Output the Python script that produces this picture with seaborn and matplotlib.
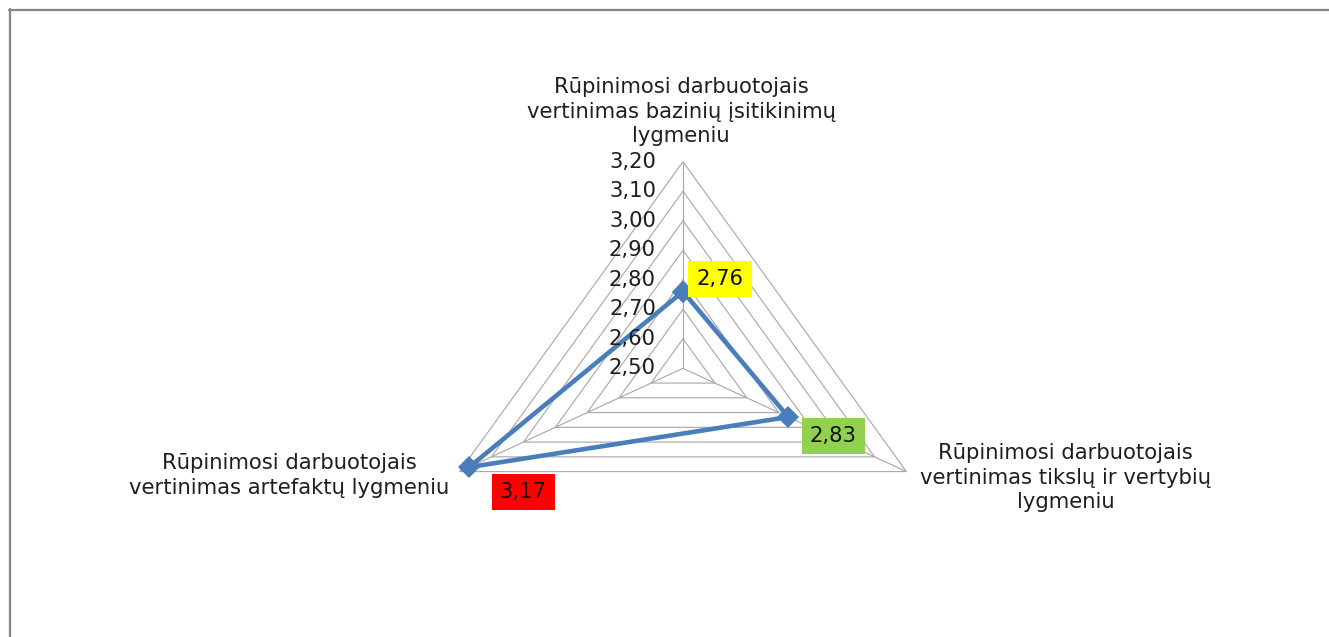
import numpy as np
import pandas as pd
import matplotlib
matplotlib.use("Agg")
import matplotlib.pyplot as plt
import seaborn as sns
from matplotlib.lines import Line2D

# Radar chart data
categories = [
    "Rūpinimosi darbuotojais\nvertinimas bazinių įsitikinimų\nlygmeniu",
    "Rūpinimosi darbuotojais\nvertinimas tikslų ir vertybių\nlygmeniu",
    "Rūpinimosi darbuotojais\nvertinimas artefaktų lygmeniu",
]
values = [2.76, 2.83, 3.17]
label_colors = ["#FFFF00", "#92D050", "#FF0000"]
tick_values = [2.50, 2.60, 2.70, 2.80, 2.90, 3.00, 3.10, 3.20]
tick_labels = ["2,50", "2,60", "2,70", "2,80", "2,90", "3,00", "3,10", "3,20"]
r_min, r_max = 2.50, 3.20

sns.set_theme(style="white")
plt.rcParams["font.family"] = ["DejaVu Sans"]

W, H = 1329, 637
fig = plt.figure(figsize=(W / 100, H / 100), dpi=100)
fig.patch.set_facecolor("white")

# polar axes, stretched horizontally
cx, cy = 683.0, 368.3
rx, ry = 258.0, 206.6
ax = fig.add_axes([(cx - rx) / W, (H - cy - ry) / H, 2 * rx / W, 2 * ry / H],
                  projection="polar")
ax.set_aspect("auto")
ax.set_theta_zero_location("N")
ax.set_theta_direction(-1)
ax.grid(False)
ax.spines["polar"].set_visible(False)
ax.patch.set_alpha(0)

n = len(values)
theta = np.arange(n) * 2 * np.pi / n
closed_theta = np.append(theta, 2 * np.pi)

grid_color = "#A6A6A6"
for r in tick_values[1:]:
    ax.plot(closed_theta, [r] * (n + 1), color=grid_color, lw=0.8, zorder=1)
for t in theta:
    ax.plot([t, t], [r_min, r_max], color=grid_color, lw=0.8, zorder=1)

df = pd.DataFrame({"theta": closed_theta, "value": values + [values[0]]})
sns.lineplot(data=df, x="theta", y="value", ax=ax, sort=False, estimator=None,
             color="#4A7EBB", lw=3.3, marker="D", markersize=11,
             markeredgewidth=0, zorder=3)

ax.set_ylim(r_min, r_max)
ax.set_xticks([])
ax.set_yticks([])
ax.set_xlabel("")
ax.set_ylabel("")

fs = 15.2
txt_color = "#1E1E1E"

# radial tick labels along the top spoke
for v, lbl in zip(tick_values, tick_labels):
    ax.annotate(lbl, xy=(0, v), xytext=(-27, 0), textcoords="offset pixels",
                ha="right", va="center", fontsize=fs, color=txt_color)

# category labels at the outer vertices
cat_offsets = [(-2, 50), (159, -6), (-170, -4)]
for t, cat, off in zip(theta, categories, cat_offsets):
    ax.annotate(cat, xy=(t, r_max), xytext=off, textcoords="offset pixels",
                ha="center", va="center", fontsize=fs, color=txt_color,
                linespacing=1.3, annotation_clip=False)

# value labels with coloured boxes
val_offsets = [(37, 13), (45, -19), (54, -25)]
for t, v, c, off in zip(theta, values, label_colors, val_offsets):
    ax.annotate(f"{v:.2f}".replace(".", ","), xy=(t, v), xytext=off,
                textcoords="offset pixels", ha="center", va="center",
                fontsize=fs, color="#111111", zorder=4,
                bbox=dict(boxstyle="square,pad=0.38", fc=c, ec="none"))

# chart area border (top and left edges)
border = "#868686"
fig.add_artist(Line2D([9 / W, 1], [1 - 9.5 / H, 1 - 9.5 / H], color=border,
                      lw=1.6, transform=fig.transFigure))
fig.add_artist(Line2D([9.5 / W, 9.5 / W], [0, 1 - 9 / H], color=border,
                      lw=1.6, transform=fig.transFigure))

fig.savefig("out.png", dpi=100)
